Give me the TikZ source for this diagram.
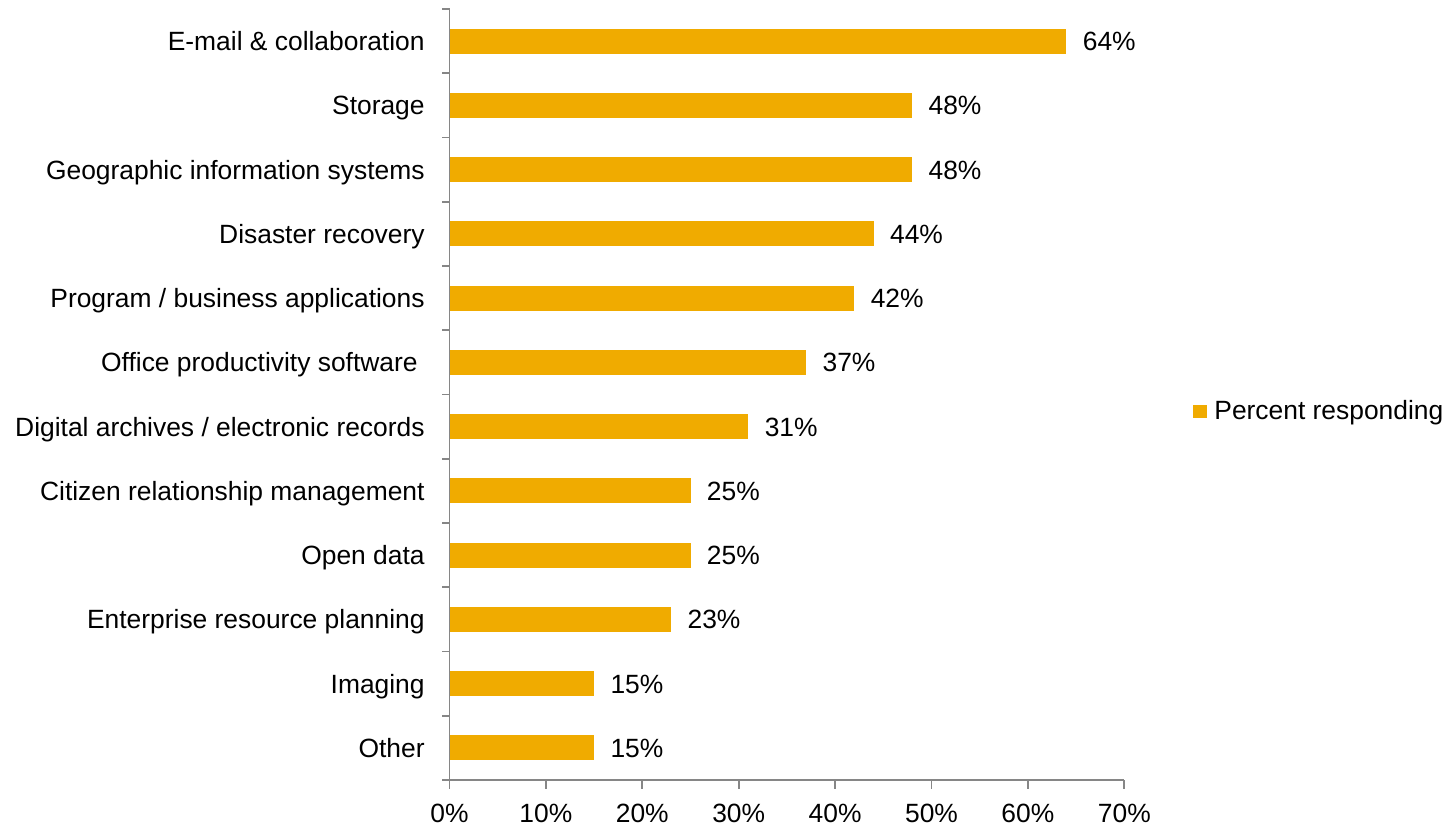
\documentclass[tikz,border=0pt]{standalone}
\usepackage{fontspec}
\setmainfont{Liberation Sans}
\definecolor{barcol}{HTML}{F0AB00}
\definecolor{axiscol}{HTML}{868686}
\begin{document}
\begin{tikzpicture}[x=0.5pt,y=-0.5pt,
  lbl/.style={font=\fontsize{13.2}{15}\selectfont, inner sep=0pt, text=black},
  axisline/.style={draw=axiscol, line width=0.9pt}]
\useasboundingbox (0,0) rectangle (1449,825);
% bars and labels
\foreach \i/\lab/\v/\lx in {0/{E-mail \& collaboration}/64/425,
  1/{Storage}/48/425,
  2/{Geographic information systems}/48/425,
  3/{Disaster recovery}/44/425,
  4/{Program / business applications}/42/425,
  5/{Office productivity software}/37/418,
  6/{Digital archives / electronic records}/31/425,
  7/{Citizen relationship management}/25/425,
  8/{Open data}/25/425,
  9/{Enterprise resource planning}/23/425,
  10/{Imaging}/15/425,
  11/{Other}/15/425}{
  \pgfmathsetmacro{\c}{9+64.25*(\i+0.5)}
  \pgfmathsetmacro{\xe}{449.5+9.64*\v}
  \fill[barcol] (449.5,\c-12.5) rectangle (\xe,\c+12.5);
  \node[lbl, anchor=base east] (lab\i) at (\lx,\c+9.5) {\lab};
  \node[lbl, anchor=base west] (val\i) at (\xe+16,\c+9.5) {\v\%};
}
% y axis
\draw[axisline] (449.5,9) -- (449.5,780);
\foreach \k in {0,...,12}{
  \draw[axisline] (442,9+64.25*\k) -- (449.5,9+64.25*\k);
}
% x axis
\draw[axisline] (449.5,780) -- (1124.3,780);
\foreach \k in {0,...,7}{
  \pgfmathsetmacro{\tx}{449.5+96.4*\k}
  \draw[axisline] (\tx,780) -- (\tx,789);
  \pgfmathtruncatemacro{\pc}{10*\k}
  \node[lbl, anchor=base, text depth=0pt] (tick\k) at (\tx,822) {\pc\%};
}
% legend
\fill[barcol] (1193,405) rectangle (1207,418);
\node[lbl, anchor=base west] (legend) at (1214,419.3) {Percent responding};
\end{tikzpicture}
\end{document}
